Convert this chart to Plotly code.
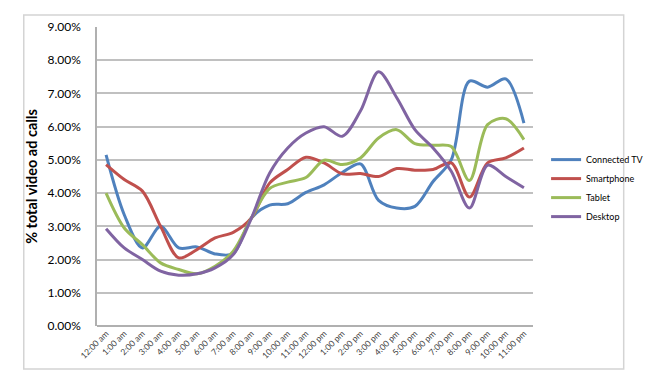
import plotly.graph_objects as go

hours = ["12:00 am", "1:00 am", "2:00 am", "3:00 am", "4:00 am", "5:00 am",
         "6:00 am", "7:00 am", "8:00 am", "9:00 am", "10:00 am", "11:00 am",
         "12:00 pm", "1:00 pm", "2:00 pm", "3:00 pm", "4:00 pm", "5:00 pm",
         "6:00 pm", "7:00 pm", "8:00 pm", "9:00 pm", "10:00 pm", "11:00 pm"]

connected_tv = [5.15, 3.35, 2.35, 3.00, 2.35, 2.38, 2.17, 2.18, 3.25, 3.64, 3.68, 4.02,
                4.25, 4.62, 4.88, 3.78, 3.55, 3.60, 4.35, 5.00, 7.37, 7.19, 7.44, 6.11]
smartphone = [4.86, 4.41, 4.06, 3.00, 2.05, 2.30, 2.65, 2.82, 3.25, 4.30, 4.71, 5.08,
              4.91, 4.58, 4.59, 4.50, 4.74, 4.69, 4.71, 4.91, 3.88, 4.91, 5.06, 5.36]
tablet = [4.00, 2.95, 2.45, 1.90, 1.70, 1.57, 1.80, 2.25, 3.25, 4.14, 4.33, 4.47,
          4.99, 4.86, 5.06, 5.66, 5.91, 5.49, 5.44, 5.40, 4.38, 6.06, 6.24, 5.61]
desktop = [2.93, 2.35, 2.00, 1.65, 1.53, 1.57, 1.75, 2.15, 3.25, 4.60, 5.36, 5.81,
           6.00, 5.71, 6.47, 7.65, 6.87, 5.91, 5.36, 4.66, 3.55, 4.84, 4.50, 4.16]

series = [
    ("Connected TV", connected_tv, "#4F81BD"),
    ("Smartphone", smartphone, "#C0504D"),
    ("Tablet", tablet, "#9BBB59"),
    ("Desktop", desktop, "#8064A2"),
]

FONT = "Lato, 'Open Sans', Arial, sans-serif"

fig = go.Figure()
for name, vals, color in series:
    fig.add_trace(go.Scatter(
        x=hours, y=[v / 100 for v in vals], name=name, mode="lines",
        line=dict(color=color, width=3, shape="spline", smoothing=0.9),
    ))

fig.update_layout(
    width=653, height=376,
    margin=dict(l=89, r=112, t=19, b=58),
    paper_bgcolor="white", plot_bgcolor="white",
    font=dict(family=FONT, color="#000000"),
    showlegend=True,
    legend=dict(
        x=1.03, y=0.605, xanchor="left", yanchor="top",
        font=dict(size=9, family=FONT, color="#000000"),
        itemwidth=30, tracegroupgap=0, bgcolor="rgba(0,0,0,0)",
    ),
    shapes=[dict(
        type="rect", xref="paper", yref="paper",
        x0=-0.168, x1=1.208, y0=-0.144, y1=1.040,
        line=dict(color="#d4d4d4", width=1.5), fillcolor="rgba(0,0,0,0)",
        layer="below",
    )],
)

fig.update_xaxes(
    type="category", tickangle=-45, showgrid=False,
    showline=False, ticks="",
    tickfont=dict(size=8.5, color="#404040", family=FONT),
    range=[-0.5, 23.5],
)
fig.update_yaxes(
    range=[0, 0.09], dtick=0.01, tickformat=".2%",
    showgrid=True, gridcolor="#c0c0c0", gridwidth=1.5,
    showline=True, linecolor="#b0b0b0", linewidth=1.5,
    zeroline=True, zerolinecolor="#b0b0b0", zerolinewidth=1.5,
    ticks="", ticklabelstandoff=12,
    tickfont=dict(size=12, color="#000000", family=FONT),
    title=dict(text="<b>% total video ad calls</b>", font=dict(size=14.5, family=FONT), standoff=6),
)

fig.write_html("out.html")
